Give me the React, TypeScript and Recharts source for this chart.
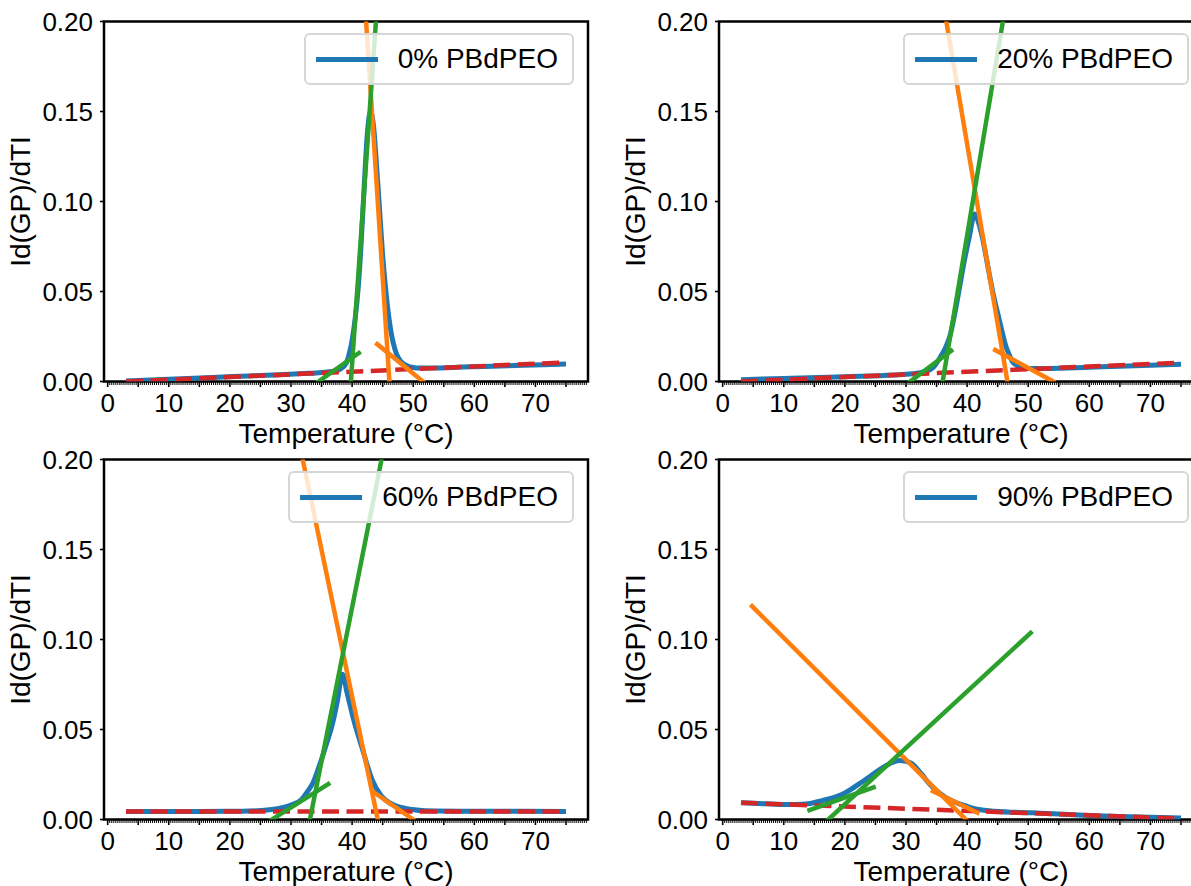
import React from 'react';
import { LineChart, Line, XAxis, YAxis, ReferenceArea } from 'recharts';

type Pt = [number, number];

const FONT = '"Liberation Sans", Arial, Helvetica, sans-serif';
const BLUE = '#1f77b4';
const ORANGE = '#ff7f0e';
const GREEN = '#2ca02c';
const RED = '#d62728';

// plot box geometry (px); axes take 1px each, so margins are 1px short
const PW = 484;
const PH = 360;
const PLOT_LEFT = 104;
const PLOT_TOP = 21.5;
const M = { top: PLOT_TOP, left: PLOT_LEFT - 1, right: 14, bottom: 72 };
const W = PLOT_LEFT + PW + M.right;
const H = PLOT_TOP + PH + M.bottom + 1;

const X_DOMAIN: [number, number] = [-0.6, 78.6];
const Y_DOMAIN: [number, number] = [0, 0.2];
const yTicks = [0, 0.05, 0.1, 0.15, 0.2];
// minor x ticks every 1/3 °C, majors every 5, labels every 10
const xTicks = Array.from({ length: 236 }, (_, k) => k / 3);

const names = ['0% PBdPEO', '20% PBdPEO', '60% PBdPEO', '90% PBdPEO'];

// 0% PBdPEO
const temp0 = [3, 8, 13, 18, 23, 28, 32, 35, 37, 38, 39, 39.5, 40, 40.5, 41, 41.5, 42, 42.5, 43, 43.5, 44, 44.5, 45, 45.5, 46, 46.5, 47, 47.5, 48, 49, 50, 51, 53, 58, 63, 68, 75];
const grad0 = [0.0003, 0.001, 0.0017, 0.0024, 0.0031, 0.0038, 0.0044, 0.005, 0.0058, 0.0068, 0.01, 0.015, 0.023, 0.035, 0.052, 0.078, 0.11, 0.138, 0.15, 0.142, 0.12, 0.095, 0.07, 0.051, 0.036, 0.025, 0.018, 0.0135, 0.011, 0.0088, 0.0078, 0.0075, 0.0075, 0.008, 0.0085, 0.009, 0.0097];
const riseSteep0: Pt[] = [[39.8, 0], [44.1, 0.21]];
const fallSteep0: Pt[] = [[42.1, 0.21], [46.1, 0]];
const riseFoot0: Pt[] = [[34.5, 0], [41.1, 0.0158]];
const fallFoot0: Pt[] = [[44.1, 0.0208], [51.6, 0]];
const base0: Pt[] = [[3, 0], [75, 0.0106]];

// 20% PBdPEO
const temp20 = [3, 10, 20, 28, 31, 33, 34.5, 35.7, 36.5, 37.2, 38, 38.8, 39.6, 40.4, 41.2, 41.8, 42.5, 43.5, 44.3, 45, 45.7, 46.3, 47, 47.5, 48.5, 50, 55, 60, 65, 70, 75];
const grad20 = [0.001, 0.0017, 0.0027, 0.0036, 0.0043, 0.0055, 0.008, 0.014, 0.019, 0.0254, 0.038, 0.053, 0.068, 0.081, 0.093, 0.089, 0.08, 0.062, 0.048, 0.038, 0.028, 0.02, 0.014, 0.0106, 0.0085, 0.0072, 0.0074, 0.0079, 0.0085, 0.009, 0.0096];
const riseSteep20: Pt[] = [[36.0, 0], [46.35, 0.21]];
const fallSteep20: Pt[] = [[36.1, 0.21], [46.6, 0]];
const riseFoot20: Pt[] = [[29.9, -0.002], [37.4, 0.0171]];
const fallFoot20: Pt[] = [[44.6, 0.0175], [54.1, 0]];
const base20: Pt[] = [[3, 0], [75, 0.0105]];

// 60% PBdPEO
const temp60 = [3, 15, 22, 25, 28, 30, 31.7, 32.8, 33.6, 34.8, 35.8, 36.7, 37.6, 38.4, 39.2, 40.1, 41.7, 43.25, 44.8, 46, 47.3, 49.8, 52, 60, 75];
const grad60 = [0.0045, 0.0045, 0.0046, 0.005, 0.0062, 0.008, 0.011, 0.016, 0.0204, 0.0315, 0.042, 0.052, 0.066, 0.0807, 0.07, 0.0575, 0.039, 0.0223, 0.013, 0.0095, 0.0074, 0.0056, 0.0049, 0.0046, 0.0045];
const riseSteep60: Pt[] = [[33.1, 0], [45.4, 0.21]];
const fallSteep60: Pt[] = [[31.3, 0.21], [44.2, 0]];
const riseFoot60: Pt[] = [[26.4, -0.001], [36.1, 0.0197]];
const fallFoot60: Pt[] = [[43.6, 0.015], [50.0, 0]];
const base60: Pt[] = [[3, 0.0045], [75, 0.0045]];

// 90% PBdPEO
const temp90 = [3, 7, 10, 12, 14, 16.4, 18, 19.5, 21, 22.6, 24.2, 25.75, 27.3, 28.9, 30.75, 32.6, 33.8, 35.1, 36.6, 38.25, 40, 41.4, 44.5, 50.75, 55, 60, 65, 70, 75];
const grad90 = [0.0093, 0.0087, 0.0083, 0.0083, 0.0087, 0.0106, 0.012, 0.0139, 0.0168, 0.0204, 0.0242, 0.0278, 0.031, 0.0328, 0.0315, 0.025, 0.02, 0.0157, 0.012, 0.0093, 0.0073, 0.0059, 0.0046, 0.0037, 0.0031, 0.0022, 0.0016, 0.0012, 0.0009];
const riseSteep90: Pt[] = [[17.3, 0], [50.4, 0.1037]];
const fallSteep90: Pt[] = [[4.8, 0.1185], [39.8, 0]];
const riseFoot90: Pt[] = [[14.2, 0.0052], [24.7, 0.0178]];
const fallFoot90: Pt[] = [[34.4, 0.0157], [41.7, 0.0037]];
const base90: Pt[] = [[3, 0.0093], [75, 0.0005]];

const toPts = (p: Pt[]) => p.map(([x, y]) => ({ x, y }));

function XTick(props: any) {
  const { x, y, payload } = props;
  const v = payload.value as number;
  const major = Math.abs(v - Math.round(v / 5) * 5) < 1e-6;
  const labeled = major && Math.round(v) % 10 === 0 && v < 75;
  return (
    <g>
      <line x1={x} x2={x} y1={y} y2={y + (major ? 5.5 : 3.5)} stroke="#000" strokeWidth={major ? 1.6 : 1} />
      {labeled && (
        <text x={x} y={y + 30} textAnchor="middle" fontSize={26} fontFamily={FONT} fill="#000">
          {Math.round(v)}
        </text>
      )}
    </g>
  );
}

function XTitle() {
  return (
    <text x={PLOT_LEFT + PW / 2} y={PLOT_TOP + PH + 61} textAnchor="middle" fontSize={28} fontFamily={FONT} fill="#000">
      Temperature (°C)
    </text>
  );
}

function YTitle() {
  const bx = PLOT_LEFT - 74;
  const cy = PLOT_TOP + PH / 2;
  return (
    <text x={bx} y={cy} transform={`rotate(-90 ${bx} ${cy})`} textAnchor="middle" fontSize={28} fontFamily={FONT} fill="#000">
      Id(GP)/dTI
    </text>
  );
}

interface PanelProps {
  left: number;
  top: number;
  name: string;
  temp: number[];
  grad: number[];
  riseSteep: Pt[];
  fallSteep: Pt[];
  riseFoot: Pt[];
  fallFoot: Pt[];
  base: Pt[];
}

function Panel({ left, top, name, temp, grad, riseSteep, fallSteep, riseFoot, fallFoot, base }: PanelProps) {
  const curve = temp.map((x, i) => ({ x, y: grad[i] }));
  const fit = { strokeWidth: 4.5, dot: false, isAnimationActive: false, strokeLinecap: 'square' as const };
  return (
    <div style={{ position: 'absolute', left: left - PLOT_LEFT, top: top - PLOT_TOP, width: W, height: H }}>
      <LineChart width={W} height={H} margin={M}>
        <XAxis
          type="number"
          dataKey="x"
          domain={X_DOMAIN}
          allowDataOverflow
          ticks={xTicks}
          interval={0}
          tickSize={0}
          tickMargin={0}
          tickLine={false}
          axisLine={false}
          tick={<XTick />}
          height={1}
          label={<XTitle />}
        />
        <YAxis
          type="number"
          domain={Y_DOMAIN}
          allowDataOverflow
          ticks={yTicks}
          interval={0}
          tickFormatter={(v: number) => v.toFixed(2)}
          tickSize={4}
          tickMargin={7}
          tickLine={{ stroke: '#000', strokeWidth: 1.6 }}
          axisLine={false}
          tick={{ fontSize: 26, fill: '#000', fontFamily: FONT }}
          width={1}
          label={<YTitle />}
        />
        <Line data={curve} dataKey="y" type="monotone" stroke={BLUE} strokeWidth={5} strokeLinejoin="round" dot={false} isAnimationActive={false} />
        <Line data={toPts(base)} dataKey="y" type="linear" stroke={RED} strokeWidth={4.5} strokeDasharray="17 7.5" dot={false} isAnimationActive={false} />
        <Line data={toPts(fallSteep)} dataKey="y" type="linear" stroke={ORANGE} {...fit} />
        <Line data={toPts(fallFoot)} dataKey="y" type="linear" stroke={ORANGE} {...fit} />
        <Line data={toPts(riseSteep)} dataKey="y" type="linear" stroke={GREEN} {...fit} />
        <Line data={toPts(riseFoot)} dataKey="y" type="linear" stroke={GREEN} {...fit} />
        <ReferenceArea x1={X_DOMAIN[0]} x2={X_DOMAIN[1]} y1={0} y2={0.2} fill="none" stroke="#000" strokeWidth={2.5} />
      </LineChart>
      <div
        style={{
          position: 'absolute',
          right: M.right + 14,
          top: PLOT_TOP + 11.5,
          height: 52,
          boxSizing: 'border-box',
          display: 'flex',
          alignItems: 'center',
          padding: '0 14px 0 10px',
          background: 'rgba(255,255,255,0.8)',
          border: '2px solid #d6d6d6',
          borderRadius: 6,
          fontFamily: FONT,
          fontSize: 28,
          color: '#000',
          whiteSpace: 'nowrap',
        }}
      >
        <span style={{ display: 'inline-block', width: 62, height: 5, background: BLUE, marginRight: 20 }} />
        <span>{name}</span>
      </div>
    </div>
  );
}

export default function App() {
  return (
    <div style={{ position: 'absolute', left: 0, top: 0, width: 1191, height: 886, overflow: 'hidden', background: '#fff' }}>
      <Panel left={104} top={21.5} name={names[0]} temp={temp0} grad={grad0} riseSteep={riseSteep0} fallSteep={fallSteep0} riseFoot={riseFoot0} fallFoot={fallFoot0} base={base0} />
      <Panel left={719} top={21.5} name={names[1]} temp={temp20} grad={grad20} riseSteep={riseSteep20} fallSteep={fallSteep20} riseFoot={riseFoot20} fallFoot={fallFoot20} base={base20} />
      <Panel left={104} top={459.5} name={names[2]} temp={temp60} grad={grad60} riseSteep={riseSteep60} fallSteep={fallSteep60} riseFoot={riseFoot60} fallFoot={fallFoot60} base={base60} />
      <Panel left={719} top={459.5} name={names[3]} temp={temp90} grad={grad90} riseSteep={riseSteep90} fallSteep={fallSteep90} riseFoot={riseFoot90} fallFoot={fallFoot90} base={base90} />
    </div>
  );
}
